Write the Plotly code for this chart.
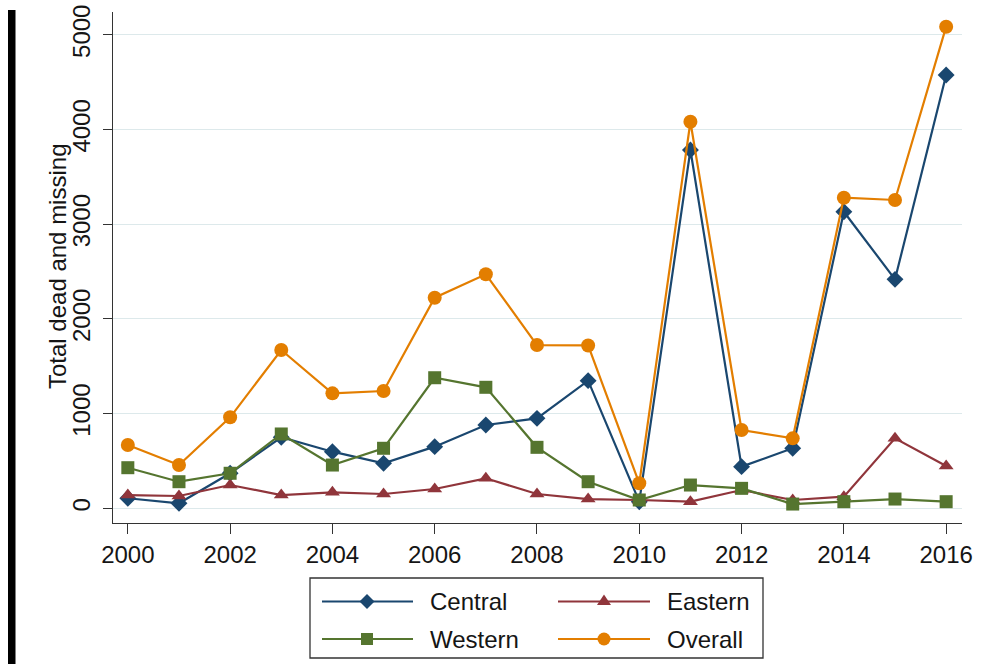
import plotly.graph_objects as go

# Annual totals of dead and missing migrants by Mediterranean route
years = list(range(2000, 2017))
central = [106, 53, 370, 750, 598, 475, 651, 880, 950, 1348, 70, 3784, 440, 634, 3132, 2418, 4575]
eastern = [140, 130, 246, 140, 169, 151, 204, 317, 151, 98, 88, 70, 193, 88, 123, 739, 447]
western = [429, 281, 370, 785, 457, 634, 1379, 1278, 644, 281, 88, 246, 211, 45, 70, 98, 70]
overall = [668, 457, 961, 1672, 1214, 1239, 2224, 2471, 1724, 1720, 264, 4082, 827, 739, 3280, 3256, 5086]

x_ticks = list(range(2000, 2017, 2))
y_ticks = [0, 1000, 2000, 3000, 4000, 5000]
y_title = "Total dead and missing"

series_names = ["Central", "Eastern", "Western", "Overall"]
series_values = [central, eastern, western, overall]
series_colors = ["#1a476f", "#90353b", "#55752f", "#e37e00"]
series_symbols = ["diamond", "triangle-up", "square", "circle"]
series_sizes = [13, 13, 13, 14]

FONT = "Liberation Sans, Arial, Helvetica, sans-serif"
TXT = "#151515"
W, H = 983, 664
L, R, T, B = 113, 962, 12, 523  # plot box in page pixels
PW, PH = R - L, B - T

fig = go.Figure()
for name, vals, col, sym, sz in zip(series_names, series_values, series_colors,
                                     series_symbols, series_sizes):
    fig.add_trace(go.Scatter(
        x=years, y=vals, name=name, mode="lines+markers",
        line=dict(color=col, width=2.2),
        marker=dict(symbol=sym, size=sz, color=col, line=dict(width=0)),
    ))


def px(x):
    return (x - L) / PW


def py(y):
    return (B - y) / PH


shapes = []
annotations = []

# black bar along the left edge of the page
shapes.append(dict(type="rect", xref="paper", yref="paper",
                   x0=px(8), x1=px(15.5), y0=py(H + 5), y1=py(10),
                   fillcolor="black", line=dict(width=0), layer="above"))

# legend frame
shapes.append(dict(type="rect", xref="paper", yref="paper",
                   x0=px(310), x1=px(763), y0=py(658), y1=py(578),
                   fillcolor="white", line=dict(color="#333333", width=1.3)))

legend_cells = [
    (322, 413, 367, 428, 601.5),  # Central
    (558, 650, 604, 665, 601.5),  # Eastern
    (322, 413, 367, 428, 639),    # Western
    (558, 650, 604, 665, 639),    # Overall
]


def marker_path(sym, cx, cy):
    if sym == "diamond":
        r = 7.5
        pts = [(cx - r, cy), (cx, cy - r), (cx + r, cy), (cx, cy + r)]
    elif sym == "triangle-up":
        pts = [(cx - 7, cy + 3.5), (cx + 7, cy + 3.5), (cx, cy - 7)]
    elif sym == "square":
        r = 6
        pts = [(cx - r, cy - r), (cx + r, cy - r), (cx + r, cy + r), (cx - r, cy + r)]
    else:
        return None
    return "M " + " L ".join(f"{px(a):.5f},{py(b):.5f}" for a, b in pts) + " Z"


for (x0, x1, mx, tx, cy), name, col, sym in zip(legend_cells, series_names,
                                                 series_colors, series_symbols):
    shapes.append(dict(type="line", xref="paper", yref="paper",
                       x0=px(x0), x1=px(x1), y0=py(cy), y1=py(cy),
                       line=dict(color=col, width=2)))
    if sym == "circle":
        r = 6.5
        shapes.append(dict(type="circle", xref="paper", yref="paper",
                           x0=px(mx - r), x1=px(mx + r), y0=py(cy + r), y1=py(cy - r),
                           fillcolor=col, line=dict(width=0)))
    else:
        shapes.append(dict(type="path", xref="paper", yref="paper",
                           path=marker_path(sym, mx, cy),
                           fillcolor=col, line=dict(width=0)))
    annotations.append(dict(xref="paper", yref="paper", x=px(tx), y=py(cy),
                            xanchor="left", yanchor="middle", text=name,
                            showarrow=False,
                            font=dict(family=FONT, size=24, color=TXT)))

# y-axis title
annotations.append(dict(xref="paper", yref="paper", x=px(57), y=py(267),
                        xanchor="center", yanchor="middle", textangle=-90,
                        text=y_title, showarrow=False,
                        font=dict(family=FONT, size=24, color=TXT)))

fig.update_layout(
    width=W, height=H,
    margin=dict(l=L, r=W - R, t=T, b=H - B, pad=0, autoexpand=False),
    paper_bgcolor="white", plot_bgcolor="white",
    showlegend=False,
    font=dict(family=FONT, size=24, color=TXT),
    shapes=shapes, annotations=annotations,
    xaxis=dict(
        range=[1999.71, 2016.31], tickmode="array", tickvals=x_ticks,
        ticktext=[str(v) for v in x_ticks], automargin=False,
        ticks="outside", ticklen=10, tickwidth=1.3, tickcolor="#333333",
        showline=True, linecolor="#333333", linewidth=1.3,
        showgrid=False, zeroline=False,
        tickfont=dict(family=FONT, size=24, color=TXT),
    ),
    yaxis=dict(
        range=[-155, 5241], tickmode="array", tickvals=y_ticks,
        ticktext=[str(v) for v in y_ticks], tickangle=-90, automargin=False,
        ticks="outside", ticklen=9, tickwidth=1.3, tickcolor="#333333",
        ticklabelstandoff=3,
        showline=True, linecolor="#333333", linewidth=1.3,
        showgrid=True, gridcolor="#dde9eb", gridwidth=1.2, zeroline=False,
        tickfont=dict(family=FONT, size=24, color=TXT),
    ),
)

fig.write_html("out.html")
